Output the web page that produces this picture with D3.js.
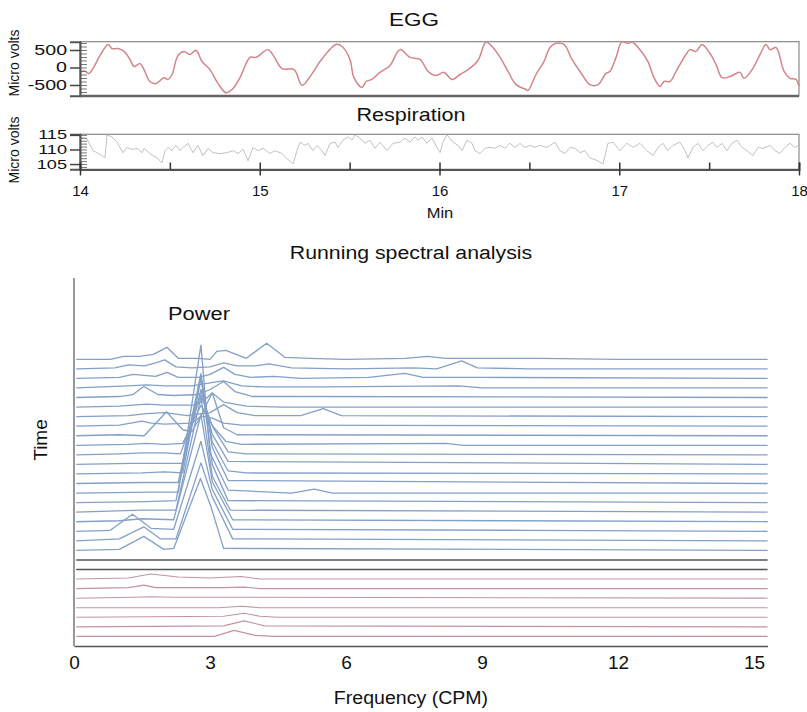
<!DOCTYPE html>
<html>
<head>
<meta charset="utf-8">
<script src="https://cdn.jsdelivr.net/npm/d3@7"></script>
<style>
  body { margin: 0; background: #fff; }
  text { font-family: "Liberation Sans", Arial, sans-serif; fill: #111; }
</style>
</head>
<body>
<div id="chart"></div>
<script>
// ---- data ----
// EGG, minutes vs micro volts
const eggTime = [14.000,14.022,14.050,14.111,14.156,14.178,14.211,14.245,14.278,14.300,14.334,14.356,14.389,14.423,14.467,14.490,14.512,14.545,14.579,14.612,14.645,14.679,14.723,14.768,14.812,14.846,14.890,14.946,14.979,15.046,15.079,15.124,15.191,15.235,15.280,15.335,15.380,15.424,15.458,15.502,15.524,15.569,15.591,15.624,15.669,15.725,15.780,15.836,15.892,15.936,15.981,16.025,16.070,16.114,16.159,16.214,16.259,16.292,16.337,16.381,16.426,16.481,16.492,16.537,16.581,16.615,16.648,16.693,16.737,16.793,16.837,16.882,16.926,16.949,16.982,17.015,17.049,17.071,17.115,17.160,17.193,17.227,17.249,17.282,17.316,17.371,17.394,17.427,17.460,17.505,17.538,17.572,17.616,17.672,17.694,17.739,17.783,17.816,17.839,17.872,17.917,17.950,17.983,18.000];
const eggValue = [-140,-90,-170,340,660,540,540,460,230,30,110,-60,-400,-460,-290,-340,-200,340,460,370,490,170,-60,-460,-720,-630,-290,290,290,510,310,-30,-60,-510,-260,170,460,660,600,230,-290,-570,-400,-340,-140,60,510,290,230,-110,-230,-140,-340,-200,-60,200,730,600,290,-110,-490,-630,-660,-200,170,570,690,660,230,-200,-490,-490,-170,-110,290,730,690,730,510,170,-290,-540,-400,-400,-110,370,510,460,660,400,90,-290,-260,-140,-310,-60,370,660,510,570,-110,-310,-340,-540];

// Respiration, minutes vs micro volts
const respTime = [14.000,14.039,14.072,14.095,14.122,14.139,14.150,14.178,14.206,14.239,14.261,14.289,14.317,14.345,14.356,14.389,14.428,14.456,14.473,14.490,14.512,14.534,14.556,14.573,14.601,14.629,14.656,14.684,14.712,14.740,14.779,14.818,14.851,14.879,14.907,14.935,14.962,14.990,15.018,15.057,15.085,15.124,15.152,15.168,15.185,15.207,15.224,15.252,15.268,15.296,15.318,15.346,15.363,15.391,15.419,15.435,15.463,15.491,15.513,15.530,15.558,15.585,15.613,15.641,15.669,15.708,15.741,15.780,15.808,15.836,15.864,15.880,15.903,15.930,15.958,15.986,16.003,16.019,16.042,16.075,16.103,16.125,16.153,16.181,16.197,16.225,16.253,16.281,16.309,16.337,16.364,16.392,16.420,16.448,16.476,16.503,16.531,16.559,16.598,16.643,16.670,16.698,16.726,16.754,16.782,16.809,16.837,16.882,16.910,16.937,16.965,17.004,17.043,17.077,17.115,17.154,17.188,17.216,17.243,17.271,17.299,17.338,17.366,17.382,17.410,17.438,17.466,17.494,17.521,17.544,17.572,17.599,17.627,17.655,17.683,17.711,17.744,17.772,17.800,17.839,17.866,17.894,17.922,17.950,17.978,17.994];
const respValue = [114.2,113.6,109.6,108.9,107.9,107.1,115.0,114.3,112.5,108.9,110.7,110.0,110.4,108.9,110.4,108.6,107.1,105.4,109.6,110.7,109.6,111.4,109.6,110.7,112.1,108.9,111.4,107.9,110.4,108.9,108.6,108.9,109.6,108.6,110.0,106.1,110.7,109.6,110.4,108.6,109.6,108.6,106.8,106.1,105.0,109.6,112.5,111.4,112.1,109.6,111.4,109.6,107.9,112.1,112.5,110.7,113.2,114.3,113.2,115.0,113.9,112.1,113.2,110.4,112.5,109.6,112.1,112.5,113.9,112.5,114.3,113.2,114.3,112.1,113.9,110.7,108.9,112.5,115.0,112.5,111.4,109.6,113.2,112.1,109.6,108.6,110.4,110.7,110.4,111.4,110.4,112.1,110.7,112.1,110.7,111.4,110.7,111.4,110.7,112.5,109.6,108.6,110.7,110.4,108.9,109.6,107.1,106.1,105.0,112.1,112.5,109.6,112.1,110.7,112.1,109.6,107.9,110.7,112.1,109.6,111.4,112.5,109.6,107.1,110.7,112.1,109.6,111.4,112.5,110.7,112.1,109.6,112.1,113.2,110.7,109.6,107.9,110.7,110.4,111.4,109.6,108.6,110.7,112.1,110.7,111.4];

const timeTicks = [14, 15, 16, 17, 18];
const eggTicks = [-500, 0, 500];
const respTicks = [105, 110, 115];

// Running spectra: each row is [frequency (CPM), power] vertices, top row first
const spectraPost = [
  [[0.05,0],[0.8,0],[1.1,3],[1.45,3],[1.75,5],[2.05,12],[2.3,1],[2.75,1],[3.0,0],[3.15,8],[3.35,9],[3.8,1],[4.25,16],[4.65,2],[5.2,1],[6,0],[7.3,1],[7.8,3],[8.2,1],[10.3,1],[12,0],[15.3,0]],
  [[0.05,0],[0.9,1],[1.2,4],[1.55,3],[1.8,6],[2.0,9],[2.25,2],[2.6,1],[3.0,2],[3.3,6],[3.6,3],[4.0,3],[4.3,5],[4.8,1],[6,0],[7.5,1],[8.0,0],[8.55,8],[8.9,1],[10,0],[15.3,0]],
  [[0.05,0],[1.0,1],[1.3,4],[1.8,2],[2.05,6],[2.3,1],[2.75,1],[3.0,4],[3.3,11],[3.55,4],[3.9,1],[4.4,2],[5,0],[6.5,1],[7.3,5],[7.7,1],[9,1],[15.3,0]],
  [[0.05,0],[1.2,2],[1.6,3],[2.0,2],[2.6,2],[3.0,5],[3.3,7],[3.7,2],[4.2,1],[5.5,1],[8.5,2],[9,0],[15.3,0]],
  [[0.05,0],[1.0,1],[1.3,3],[1.54,11],[1.85,3],[2.2,2],[2.75,3],[3.0,8],[3.3,16],[3.55,6],[3.95,1],[5,1],[15.3,0]],
  [[0.05,0],[1.0,1],[1.6,3],[2.0,2],[2.65,2],[2.85,6],[3.05,14],[3.3,5],[3.8,1],[4.6,0],[15.3,0]],
  [[0.05,0],[1.2,1],[1.6,3],[2.0,4],[2.5,1],[2.8,3],[3.0,4],[3.3,12],[3.6,4],[4.0,1],[5.0,1],[5.5,8],[5.9,1],[15.3,0]],
  [[0.05,0],[1.0,1],[1.5,5],[1.7,3],[2.0,2],[2.6,3],[2.8,10],[3.05,8],[3.3,3],[3.7,1],[15.3,0]],
  [[0.05,0],[1.0,1],[1.55,0],[2.04,24],[2.4,6],[2.6,4],[2.8,20],[3.05,43],[3.3,8],[3.6,1],[15.3,0]],
  [[0.05,0],[1.2,1],[1.6,2],[2.0,1],[2.4,2],[2.8,40],[3.06,19],[3.35,4],[3.7,1],[8.2,2],[8.6,0],[15.3,0]],
  [[0.05,0],[1.0,1],[1.5,2],[2.0,2],[2.35,1],[2.8,60],[3.06,28],[3.4,3],[3.8,1],[15.3,0]],
  [[0.05,0],[1.3,1],[2.0,1],[2.4,1],[2.8,75],[3.05,30],[3.4,3],[15.3,0]],
  [[0.05,0],[1.5,1],[2.0,2],[2.4,1],[2.8,95],[3.05,32],[3.4,3],[3.8,1],[15.3,0]],
  [[0.05,0],[1.5,1],[2.3,1],[2.8,110],[3.05,36],[3.4,3],[15.3,0]],
  [[0.05,0],[1.7,1],[2.3,1],[2.8,148],[3.0,40],[3.4,3],[4.8,0],[5.3,4],[5.7,0],[15.3,0]],
  [[0.05,0],[1.6,1],[2.25,2],[2.8,127],[3.05,38],[3.4,2],[15.3,0]],
  [[0.05,0],[1.5,2],[2.25,2],[2.8,115],[3.05,36],[3.45,2],[15.3,0]],
  [[0.05,0],[1.0,1],[1.5,3],[2.2,2],[2.8,107],[3.05,40],[3.5,2],[15.3,0]],
  [[0.05,0],[0.8,1],[1.29,17],[1.7,3],[2.2,2],[2.8,90],[3.05,42],[3.5,2],[10,1],[15.3,0]],
  [[0.05,0],[1.0,2],[1.54,14],[1.9,2],[2.25,2],[2.8,78],[3.05,44],[3.5,2],[15.3,0]],
  [[0.05,0],[1.0,1],[1.54,14],[1.98,1],[2.2,2],[2.79,72],[3.02,44],[3.3,2],[15.3,0]]
];
const spectraMarker = [
  [[0.05,0],[15.3,0]],
  [[0.05,0],[15.3,0]]
];
const spectraPre = [
  [[0.05,0],[1.2,1],[1.69,5],[2.3,2],[3.0,1],[3.68,2.5],[4.1,0],[15.3,0]],
  [[0.05,0],[1.2,1],[1.54,3.5],[1.8,1],[3.3,1],[3.75,1.5],[4.1,0],[15.3,0]],
  [[0.05,0],[1.3,1],[1.7,1.5],[2.2,1],[15.3,0]],
  [[0.05,0],[3.2,0],[3.7,1.5],[4.1,0],[15.3,0]],
  [[0.05,0],[3.3,1],[3.75,4],[4.1,1],[4.5,0],[15.3,0]],
  [[0.05,0],[3.3,1],[3.75,6],[4.2,1],[15.3,0]],
  [[0.05,0],[3.1,0],[3.53,6],[4.0,1],[4.4,0],[15.3,0]]
];
const freqTicks = [0, 3, 6, 9, 12, 15];

// ---- svg ----
const W = 807, H = 712;
const svg = d3.select("#chart").append("svg")
  .attr("width", W)
  .attr("height", H);

// centered title, stretched sideways like the original lettering
function title(cx, y, size, sx, str) {
  svg.append("text")
    .attr("transform", `translate(${cx},${y}) scale(${sx},1)`)
    .attr("text-anchor", "middle")
    .style("font-size", size + "px")
    .text(str);
}

// y tick labels a bit wider than the font
function wideLeftLabels(g, off, size, sx) {
  g.selectAll("text")
    .style("font-size", size + "px")
    .attr("fill", "#111")
    .attr("x", -off / sx)
    .attr("transform", `scale(${sx},1)`);
}

const x = d3.scaleLinear().domain([14, 18]).range([80, 799]);

// EGG panel
const eggY = d3.scaleLinear().domain([-806, 737]).range([95.7, 41.7]);

title(414, 26, 18, 1.25, "EGG");

svg.append("rect").attr("x", 80).attr("y", 41.7).attr("width", 719).attr("height", 54)
  .attr("fill", "none").attr("stroke", "#8a8a8a").attr("stroke-width", 1.2);

svg.append("path")
  .datum(eggTime.map((t, i) => [t, eggValue[i]]))
  .attr("fill", "none")
  .attr("stroke", "#d4858b")
  .attr("stroke-width", 1.5)
  .attr("d", d3.line().x(d => x(d[0])).y(d => eggY(d[1])).curve(d3.curveCatmullRom));

// minor ticks inside
svg.append("g").attr("transform", "translate(80,0)")
  .call(d3.axisRight(eggY).tickValues(d3.range(-800, 701, 100)).tickSize(7).tickFormat(""))
  .call(g => g.selectAll("line").attr("stroke", "#777"))
  .call(g => g.select(".domain").remove());

svg.append("g").attr("transform", "translate(80,0)")
  .call(d3.axisLeft(eggY).tickValues(eggTicks).tickSize(10).tickPadding(3).tickFormat(d => String(d)))
  .call(g => g.select(".domain").attr("stroke", "#555").attr("stroke-width", 2))
  .call(g => g.selectAll("line").attr("stroke", "#444").attr("stroke-width", 1.5))
  .call(g => wideLeftLabels(g, 13, 14, 1.4));

svg.append("line").attr("x1", 80).attr("x2", 799).attr("y1", 96).attr("y2", 96)
  .attr("stroke", "#666").attr("stroke-width", 2.5);

svg.append("text").attr("transform", "translate(19,63) rotate(-90)")
  .attr("text-anchor", "middle").style("font-size", "14px").text("Micro volts");

// Respiration panel
const respY = d3.scaleLinear().domain([103.2, 115.2]).range([169.3, 134.3]);

title(411, 121, 18, 1.2, "Respiration");

svg.append("rect").attr("x", 80).attr("y", 134.3).attr("width", 719).attr("height", 35)
  .attr("fill", "none").attr("stroke", "#8a8a8a").attr("stroke-width", 1.2);

svg.append("path")
  .datum(respTime.map((t, i) => [t, respValue[i]]))
  .attr("fill", "none")
  .attr("stroke", "#c2c2c2")
  .attr("stroke-width", 1)
  .attr("d", d3.line().x(d => x(d[0])).y(d => respY(d[1])));

svg.append("g").attr("transform", "translate(80,0)")
  .call(d3.axisRight(respY).tickValues(d3.range(104, 116, 1)).tickSize(7).tickFormat(""))
  .call(g => g.selectAll("line").attr("stroke", "#777"))
  .call(g => g.select(".domain").remove());

svg.append("g").attr("transform", "translate(80,0)")
  .call(d3.axisLeft(respY).tickValues(respTicks).tickSize(10).tickPadding(3))
  .call(g => g.select(".domain").attr("stroke", "#555").attr("stroke-width", 2))
  .call(g => g.selectAll("line").attr("stroke", "#444").attr("stroke-width", 1.5))
  .call(g => wideLeftLabels(g, 13, 12.5, 1.45));

// time axis: half-minute ticks pointing up, minute ticks crossing
svg.append("g").attr("transform", "translate(0,169.5)")
  .call(d3.axisTop(x).tickValues(d3.range(14, 18.01, 0.5)).tickSize(7).tickFormat(""))
  .call(g => g.select(".domain").attr("stroke", "#555").attr("stroke-width", 2))
  .call(g => g.selectAll("line").attr("stroke", "#333").attr("stroke-width", 1.5));

svg.append("g").attr("transform", "translate(0,169.5)")
  .call(d3.axisBottom(x).tickValues(timeTicks).tickSize(6).tickPadding(10).tickFormat(d3.format("d")))
  .call(g => g.select(".domain").remove())
  .call(g => g.selectAll("line").attr("stroke", "#333").attr("stroke-width", 1.5))
  .call(g => g.selectAll("text").style("font-size", "15px").attr("fill", "#111"));

title(440, 218, 15, 1.1, "Min");

svg.append("text").attr("transform", "translate(19,150) rotate(-90)")
  .attr("text-anchor", "middle").style("font-size", "14px").text("Micro volts");

// Running spectral analysis
const f = d3.scaleLinear().domain([0, 15.3]).range([74, 767.6]);
const nRows = spectraPost.length + spectraMarker.length + spectraPre.length;
const rowY = d3.scaleLinear().domain([0, nRows - 1]).range([359.3, 636.4]);
const power = d3.scaleLinear().domain([0, 100]).range([0, 100]);

title(411, 259, 19, 1.12, "Running spectral analysis");

const rows = [
  ...spectraPost.map(d => ({ pts: d, color: "#83a0c8", w: 1.3 })),
  ...spectraMarker.map(d => ({ pts: d, color: "#555", w: 1.6 })),
  ...spectraPre.map(d => ({ pts: d, color: "#c2959c", w: 1.1 }))
];

svg.append("g").selectAll("path")
  .data(rows)
  .join("path")
  .attr("fill", "none")
  .attr("stroke", d => d.color)
  .attr("stroke-width", d => d.w)
  .attr("stroke-linejoin", "round")
  .attr("d", (d, i) => d3.line().x(p => f(p[0])).y(p => rowY(i) - power(p[1]))(d.pts));

// axes
svg.append("line").attr("x1", 74).attr("x2", 74).attr("y1", 278).attr("y2", 646)
  .attr("stroke", "#777").attr("stroke-width", 1.5);

svg.append("g").attr("transform", "translate(0,646)")
  .call(d3.axisBottom(f).tickValues(freqTicks).tickSize(0).tickPadding(10))
  .call(g => g.select(".domain").attr("stroke", "#555").attr("stroke-width", 1.5))
  .call(g => g.selectAll("text").style("font-size", "19px").attr("fill", "#111"));

title(411, 704, 19, 1.03, "Frequency (CPM)");

svg.append("text").attr("transform", "translate(47,440) rotate(-90)")
  .attr("text-anchor", "middle").style("font-size", "19px").text("Time");

title(199, 320, 19, 1.15, "Power");
</script>
</body>
</html>
